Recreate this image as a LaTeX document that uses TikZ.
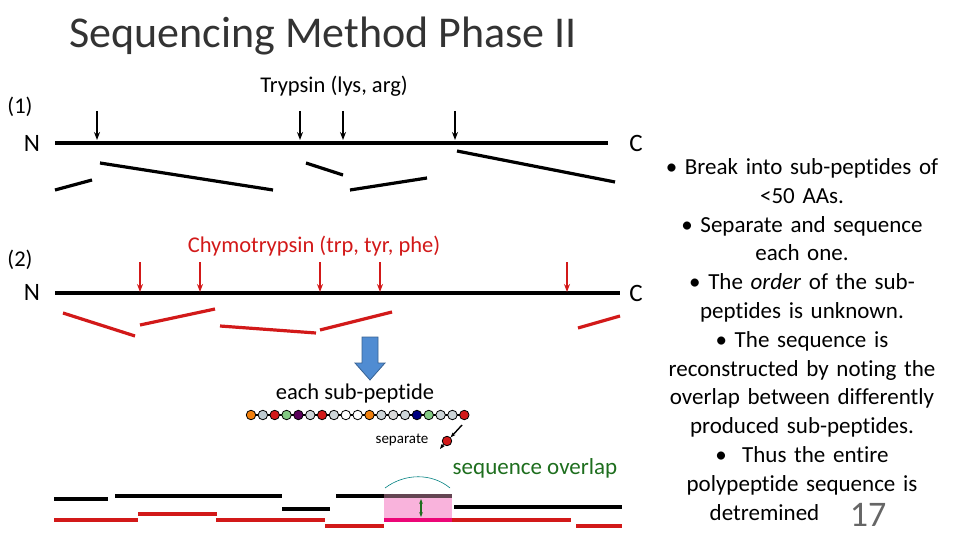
\documentclass[tikz,border=0pt]{standalone}
\usepackage{fontspec}
\setmainfont{Carlito}[Ligatures={NoCommon}]
\usetikzlibrary{arrows.meta}
\definecolor{rd}{RGB}{210,25,25}
\definecolor{gr}{RGB}{30,110,30}
\definecolor{ba}{RGB}{80,140,210}
\begin{document}
\begin{tikzpicture}[x=1pt,y=-1pt,
 blk/.style={line width=3.2pt,black},
 red/.style={line width=3.2pt,rd},
 cut/.style={-{Stealth[length=8pt,width=6pt]},line width=1.4pt},
 lab/.style={font=\fontsize{22.5}{24}\selectfont},
 bead/.style={circle,draw=black,line width=0.8pt,minimum size=9.5pt,inner sep=0pt}]
\useasboundingbox (0,0) rectangle (960,540);
\node[font=\fontsize{44}{46}\selectfont,text=black!80] (title) at (323,36) {Sequencing Method Phase II};
% Phase 1
\node[lab] (p1) at (20,107) {(1)};
\node[font=\fontsize{25}{27}\selectfont] (n1) at (32,143) {N};
\node[font=\fontsize{25}{27}\selectfont] (c1) at (636,143) {C};
\draw[blk] (55,143) -- (608,143);
\node[lab] (tr) at (334,86) {Trypsin (lys, arg)};
\foreach \x in {97,300,343,455}{\draw[cut] (\x,111) -- (\x,140);}
\draw[blk] (55,190) -- (92,180);
\draw[blk] (100,163) -- (273,190);
\draw[blk] (306,163) -- (343,175);
\draw[blk] (350,190) -- (427,178);
\draw[blk] (457,151) -- (615,182);
% Phase 2
\node[lab] (p2) at (20,260) {(2)};
\node[font=\fontsize{25}{27}\selectfont] (n2) at (32,292) {N};
\node[font=\fontsize{25}{27}\selectfont] (c2) at (636,293) {C};
\draw[blk] (55,293) -- (620,293);
\node[lab,text=rd] (ch) at (314,246) {Chymotrypsin (trp, tyr, phe)};
\foreach \x in {140,200,320,380,567}{\draw[cut,rd] (\x,262) -- (\x,292);}
\draw[red] (63,313) -- (135,336);
\draw[red] (140,325) -- (215,309);
\draw[red] (220,326) -- (316,333);
\draw[red] (320,330) -- (392,312);
\draw[red] (578,328) -- (620,316);
% blue arrow
\draw[fill=ba,draw=ba!70!black,line width=0.8pt] (362,337) -- (378,337) -- (378,363) -- (385,363) -- (370,380) -- (355,363) -- (362,363) -- cycle;
\node[lab] (esp) at (355,393) {each sub-peptide};
\draw[line width=1.2pt] (250,415) -- (460,415);
\foreach \c [count=\i from 0] in {orange!80!brown,cyan!20!gray!50,rd,green!40!gray!70,violet!70!black,cyan!15!gray!40,rd,cyan!15!gray!40,white,white,orange!80!brown,cyan!15!gray!40,gray!30,cyan!15!gray!40,blue!50!black,green!40!gray!70,cyan!15!gray!40,cyan!15!gray!40,rd}
 {\node[bead,fill=\c] (b\i) at (251+11.85*\i,415) {};}
\node[font=\fontsize{15}{17}\selectfont] (sep) at (402,440) {separate};
\node[bead,fill=rd] (rb) at (447,441) {};
\draw[-{Stealth[length=5pt]},line width=1.4pt] (462,425) -- (rb.north east);
\draw[-{Stealth[length=5pt]},line width=1.4pt] (rb.south west) -- (440,449);
\node[font=\fontsize{23}{25}\selectfont,text=gr] (so) at (535,468) {sequence overlap};
% bottom
\fill[magenta!30] (384,494) rectangle (452,520);
\draw[teal,line width=0.6pt] (385,488) .. controls (405,473) and (432,473) .. (450,488);
\draw[line width=3.2pt,black!70!magenta] (384,496) -- (452,496);
\draw[line width=3.2pt,magenta!80!red] (384,520) -- (452,520);
\draw[{Stealth[length=5pt]}-{Stealth[length=5pt]},gr,line width=2pt] (421,499) -- (421,517);
\draw[blk] (54,499) -- (108,499);
\draw[blk] (115,496) -- (282,496);
\draw[blk] (282,509) -- (330,509);
\draw[blk] (336,496) -- (384,496);
\draw[blk] (454,507) -- (622,507);
\draw[red] (54,520) -- (138,520);
\draw[red] (138,514) -- (217,514);
\draw[red] (216,520) -- (325,520);
\draw[red] (325,526) -- (384,526);
\draw[red] (452,520) -- (571,520);
\draw[red] (576,526) -- (622,526);
% text block
\node[align=center,font=\fontsize{23}{28.8}\selectfont,text width=320pt,anchor=north] (txt) at (802,155)
{• Break into sub-peptides of\\ <50 AAs.\\ • Separate and sequence\\ each one.\\ • The \emph{order} of the sub-\\ peptides is unknown.\\ • The sequence is\\ reconstructed by noting the\\ overlap between differently\\ produced sub-peptides.\\ •\ \ Thus the entire\\ polypeptide sequence is\\ detremined\hspace{75pt}\mbox{}};
\node[font=\fontsize{36}{38}\selectfont,text=black!60] (pg) at (868,515) {17};
\end{tikzpicture}
\end{document}
